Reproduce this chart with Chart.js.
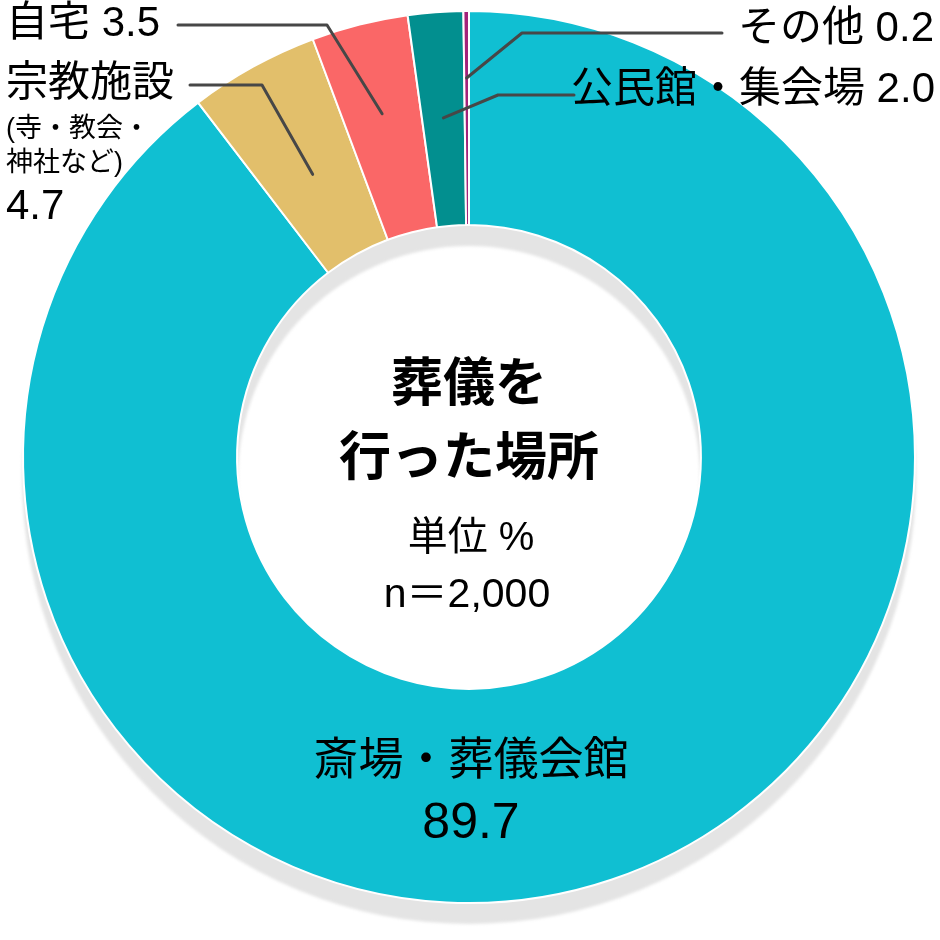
<!DOCTYPE html>
<html lang="ja">
<head>
<meta charset="utf-8">
<script src="https://cdn.jsdelivr.net/npm/chart.js@4.4.1/dist/chart.umd.min.js"></script>
<style>
  html, body { margin: 0; padding: 0; background: #fff; }
  #wrap { width: 940px; height: 940px; }
</style>
</head>
<body>
<div id="wrap"><canvas id="myChart" width="940" height="940"></canvas></div>
<script>
const categories = ["斎場・葬儀会館", "宗教施設", "自宅", "公民館・集会場", "その他"];
const notes = ["", "(寺・教会・|神社など)", "", "", ""];
const values = [89.7, 4.7, 3.5, 2.0, 0.2];
const colors = ["#10bfd2", "#e2bf6b", "#fa6767", "#028f8f", "#a3237a"];
const centerTitle = ["葬儀を", "行った場所"];
const centerNotes = ["単位 %", "n＝2,000"];

// latin glyphs from Liberation Sans, kana/kanji fall back to Noto CJK
const FONT = '"Liberation Sans", "Noto Sans CJK JP", sans-serif';
const LINE_COLOR = '#474747';

// where each outside label sits and how its leader line bends
const labelLayout = [
  null,
  { x: 6, y: 84, align: 'left', line: [[190, 85], [262, 85]], r: 323 },
  { x: 6, y: 24, align: 'left', line: [[178, 25], [327, 25]], r: 354 },
  { x: 935, y: 90, align: 'right', line: [[574, 95], [498, 95]], r: 340 },
  { x: 934, y: 29, align: 'right', line: [[722, 33], [522, 33]], r: 379 }
];

function arcProps(chart, i) {
  return chart.getDatasetMeta(0).data[i].getProps(
    ['x', 'y', 'startAngle', 'endAngle', 'innerRadius', 'outerRadius'], true);
}

const ringShadow = {
  id: 'ringShadow',
  beforeDatasetsDraw(chart) {
    const { ctx } = chart;
    const a = arcProps(chart, 0);
    ctx.save();
    ctx.filter = 'blur(1.5px)';
    ctx.fillStyle = '#e4e4e4';
    ctx.beginPath();
    ctx.arc(a.x, a.y + 20, a.outerRadius + 1, 0, Math.PI * 2);
    ctx.arc(a.x, a.y + 20, a.innerRadius - 1, 0, Math.PI * 2, true);
    ctx.fill();
    ctx.restore();
  }
};

const textLayer = {
  id: 'textLayer',
  afterDraw(chart) {
    const { ctx } = chart;
    const c = arcProps(chart, 0);
    ctx.save();
    ctx.fillStyle = '#000';
    ctx.textBaseline = 'middle';

    // centre of the hole
    ctx.textAlign = 'center';
    ctx.font = 'bold 52px ' + FONT;
    ctx.fillText(centerTitle[0], c.x, c.y - 70);
    ctx.fillText(centerTitle[1], c.x, c.y + 4);
    ctx.font = '40px ' + FONT;
    ctx.fillText(centerNotes[0], c.x + 2, c.y + 82);
    ctx.font = '41px ' + FONT;
    ctx.fillText(centerNotes[1], c.x - 2, c.y + 139);

    // biggest slice, written inside the ring
    ctx.font = '45px ' + FONT;
    ctx.fillText(categories[0], c.x + 2, c.y + 306);
    ctx.font = '50px ' + FONT;
    ctx.fillText(values[0].toFixed(1), c.x + 2, c.y + 367);

    // outside labels with leader lines
    for (let i = 1; i < categories.length; i++) {
      const L = labelLayout[i];
      const a = arcProps(chart, i);
      const mid = (a.startAngle + a.endAngle) / 2;
      const ax = a.x + Math.cos(mid) * L.r;
      const ay = a.y + Math.sin(mid) * L.r;

      ctx.strokeStyle = LINE_COLOR;
      ctx.lineWidth = 3;
      ctx.lineCap = 'round';
      ctx.lineJoin = 'round';
      ctx.beginPath();
      ctx.moveTo(L.line[0][0], L.line[0][1]);
      ctx.lineTo(L.line[1][0], L.line[1][1]);
      ctx.lineTo(ax, ay);
      ctx.stroke();

      ctx.textAlign = L.align;
      const val = values[i].toFixed(1);
      if (notes[i]) {
        ctx.font = '42px ' + FONT;
        ctx.fillText(categories[i], L.x, L.y);
        ctx.font = '27px ' + FONT;
        notes[i].split('|').forEach((t, k) => ctx.fillText(t, L.x, L.y + 46 + k * 34));
        ctx.font = '42px ' + FONT;
        ctx.fillText(val, L.x, L.y + 123);
      } else {
        ctx.font = '42px ' + FONT;
        ctx.fillText(categories[i] + ' ' + val, L.x, L.y);
      }
    }
    ctx.restore();
  }
};

const data = {
  labels: categories,
  datasets: [{
    data: values,
    backgroundColor: colors,
    borderColor: '#ffffff',
    borderWidth: 2,
    hoverOffset: 0
  }]
};

const config = {
  type: 'doughnut',
  data: data,
  options: {
    responsive: false,
    animation: false,
    cutout: '52%',
    layout: { padding: { left: 22, right: 24, top: 10, bottom: 36 } },
    plugins: {
      legend: { display: false },
      tooltip: { enabled: false }
    }
  },
  plugins: [ringShadow, textLayer]
};

new Chart(document.getElementById("myChart"), config);
</script>
</body>
</html>
